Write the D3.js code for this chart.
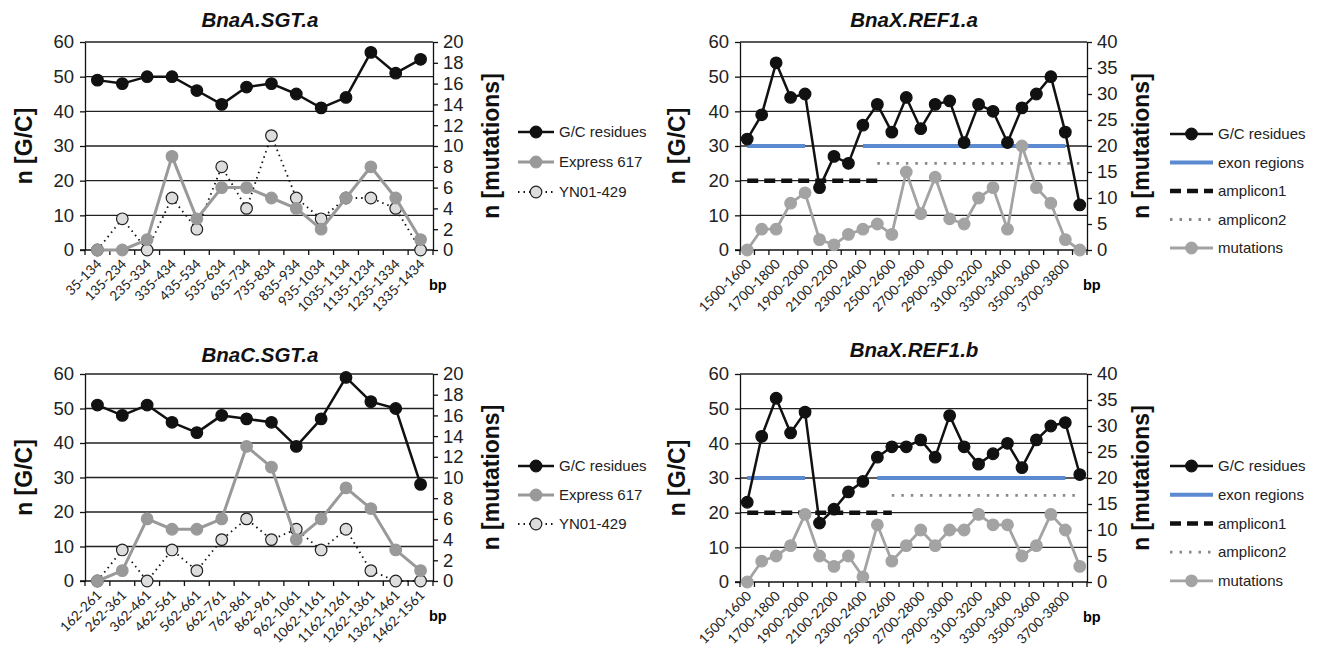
<!DOCTYPE html>
<html lang="en">
<head>
<meta charset="UTF-8">
<title>G/C residues and mutations</title>
<style>
  body { margin: 0; background: #fff; }
  svg { font-family: "Liberation Sans", Arial, sans-serif; }
  .grid line { stroke: #222; stroke-width: 1.3px; }
  .axis path, .axis line { stroke: #111; stroke-width: 1.3px; fill: none; }
  .axis text { font-size: 18.5px; fill: #222; }
  .xlab { font-family: Lato, "Open Sans", sans-serif; font-size: 13.5px; fill: #222; }
  .title { font-size: 20.5px; font-weight: bold; font-style: italic; fill: #111; }
  .ytitle { font-size: 23px; font-weight: bold; fill: #111; }
  .leg { font-size: 15px; fill: #222; }
</style>
</head>
<body>
<script src="https://cdnjs.cloudflare.com/ajax/libs/d3/7.8.5/d3.min.js"></script>
<script>
// ---- data ----
var catsA = ["35-134","135-234","235-334","335-434","435-534","535-634","635-734",
             "735-834","835-934","935-1034","1035-1134","1135-1234","1235-1334","1335-1434"];
var gcA = [49,48,50,50,46,42,47,48,45,41,44,57,51,55];
var express617A = [0,0,1,9,3,6,6,5,4,2,5,8,5,1];
var yn01A = [0,3,0,5,2,8,4,11,5,3,5,5,4,0];

var catsC = ["162-261","262-361","362-461","462-561","562-661","662-761","762-861",
             "862-961","962-1061","1062-1161","1162-1261","1262-1361","1362-1461","1462-1561"];
var gcC = [51,48,51,46,43,48,47,46,39,47,59,52,50,28];
var express617C = [0,1,6,5,5,6,13,11,4,6,9,7,3,1];
var yn01C = [0,3,0,3,1,4,6,4,5,3,5,1,0,0];

var catsREF = ["1500-1600","1600-1700","1700-1800","1800-1900","1900-2000","2000-2100",
               "2100-2200","2200-2300","2300-2400","2400-2500","2500-2600","2600-2700",
               "2700-2800","2800-2900","2900-3000","3000-3100","3100-3200","3200-3300",
               "3300-3400","3400-3500","3500-3600","3600-3700","3700-3800","3800-3900"];
var gcREFa = [32,39,54,44,45,18,27,25,36,42,34,44,35,42,43,31,42,40,31,41,45,50,34,13];
var mutREFa = [0,4,4,9,11,2,1,3,4,5,3,15,7,14,6,5,10,12,4,20,12,9,2,0];
var gcREFb = [23,42,53,43,49,17,21,26,29,36,39,39,41,36,48,39,34,37,40,33,41,45,46,31];
var mutREFb = [0,4,5,7,13,5,3,5,1,11,4,7,10,7,10,10,13,11,11,5,7,13,10,3];

// region markers: [from, to, level on G/C axis]
var exonREFa = [["1500-1600","1900-2000",30],["2300-2400","3700-3800",30]];
var amp1REFa = [["1500-1600","2400-2500",20]];
var amp2REFa = [["2400-2500","3800-3900",25]];
var exonREFb = [["1500-1600","1900-2000",30],["2400-2500","3700-3800",30]];
var amp1REFb = [["1500-1600","2500-2600",20]];
var amp2REFb = [["2500-2600","3800-3900",25]];

var W = 1318, H = 653;
var svg = d3.select("body").append("svg").attr("width", W).attr("height", H);

var styles = {
  gc:   {stroke: "#111", width: 2.5, dash: null, fill: "#111", mstroke: "#111", r: 5.8},
  expr: {stroke: "#999", width: 3, dash: null, fill: "#999", mstroke: "#999", r: 5.8},
  yn:   {stroke: "#111", width: 1.8, dash: "1.5,4", fill: "#ddd", mstroke: "#222", r: 5.8},
  mut:  {stroke: "#a3a3a3", width: 2.8, dash: null, fill: "#a3a3a3", mstroke: "#a3a3a3", r: 5.8},
  exon: {stroke: "#5b8ad0", width: 4, dash: null},
  amp1: {stroke: "#111", width: 4.5, dash: "11,6"},
  amp2: {stroke: "#888", width: 2.8, dash: "2.5,7"}
};

function drawPanel(p) {
  var g = svg.append("g");
  var x = d3.scaleBand().domain(p.cats).range([p.x0, p.x1]).padding(0);
  var cx = function(c) { return x(c) + x.bandwidth() / 2; };
  var yL = d3.scaleLinear().domain([0, 60]).range([p.y1, p.y0]);
  var yR = d3.scaleLinear().domain([0, p.rmax]).range([p.y1, p.y0]);

  // grid
  g.append("g").attr("class", "grid").selectAll("line")
    .data(d3.range(10, 61, 10)).join("line")
    .attr("x1", p.x0).attr("x2", p.x1)
    .attr("y1", function(d) { return yL(d); }).attr("y2", function(d) { return yL(d); });

  // axes
  g.append("g").attr("class", "axis").attr("transform", "translate(" + p.x0 + ",0)")
    .call(d3.axisLeft(yL).tickValues(d3.range(0, 61, 10)).tickSize(5).tickPadding(6).tickSizeOuter(0));
  g.append("g").attr("class", "axis").attr("transform", "translate(" + p.x1 + ",0)")
    .call(d3.axisRight(yR).tickValues(d3.range(0, p.rmax + 1, p.rstep)).tickSize(5).tickPadding(5).tickSizeOuter(0));

  // x axis with ticks on category boundaries
  var xa = g.append("g").attr("class", "axis");
  xa.append("line").attr("x1", p.x0 - 5).attr("x2", p.x1).attr("y1", p.y1).attr("y2", p.y1);
  xa.selectAll(".xt").data(p.cats.concat([null])).join("line").attr("class", "xt")
    .attr("x1", function(d, i) { return i < p.cats.length ? x(d) : p.x1; })
    .attr("x2", function(d, i) { return i < p.cats.length ? x(d) : p.x1; })
    .attr("y1", p.y1).attr("y2", p.y1 + 5);
  g.selectAll(".xlab").data(p.cats.filter(function(d, i) { return i % p.labelEvery === 0; }))
    .join("text").attr("class", "xlab")
    .attr("text-anchor", "end")
    .attr("transform", function(d) { return "translate(" + (cx(d) + 5) + "," + (p.y1 + 15) + ") rotate(-45)"; })
    .text(function(d) { return d; });
  g.append("text").attr("x", p.x1 - 4).attr("y", p.y1 + 40)
    .style("font-size", "14.5px").style("font-weight", "bold").text("bp");

  // region lines
  (p.regions || []).forEach(function(r) {
    var st = styles[r.style];
    g.selectAll(null).data(r.data).join("line")
      .attr("x1", function(d) { return cx(d[0]); }).attr("x2", function(d) { return cx(d[1]); })
      .attr("y1", function(d) { return yL(d[2]); }).attr("y2", function(d) { return yL(d[2]); })
      .attr("stroke", st.stroke).attr("stroke-width", st.width)
      .attr("stroke-dasharray", st.dash);
  });

  // series
  p.series.forEach(function(s) {
    var st = styles[s.style];
    var y = s.axis === "left" ? yL : yR;
    var line = d3.line().x(function(d, i) { return cx(p.cats[i]); }).y(function(d) { return y(d); });
    g.append("path").datum(s.values).attr("d", line)
      .attr("fill", "none").attr("stroke", st.stroke).attr("stroke-width", st.width)
      .attr("stroke-dasharray", st.dash).attr("stroke-linejoin", "round");
    g.selectAll(null).data(s.values).join("circle")
      .attr("cx", function(d, i) { return cx(p.cats[i]); }).attr("cy", function(d) { return y(d); })
      .attr("r", st.r).attr("fill", st.fill).attr("stroke", st.mstroke).attr("stroke-width", 1.2);
  });

  // titles
  g.append("text").attr("class", "title").attr("x", p.tx).attr("y", p.ty)
    .attr("text-anchor", "middle").text(p.title);
  g.append("text").attr("class", "ytitle").attr("text-anchor", "middle")
    .attr("transform", "translate(" + p.lx + "," + (p.y0 + p.y1) / 2 + ") rotate(-90)")
    .attr("dy", "0.35em").text("n [G/C]");
  g.append("text").attr("class", "ytitle").attr("text-anchor", "middle")
    .attr("transform", "translate(" + p.rx + "," + (p.y0 + p.y1) / 2 + ") rotate(-90)")
    .attr("dy", "0.35em").text("n [mutations]");

  // legend
  var lg = g.append("g");
  p.legend.forEach(function(l, i) {
    var st = styles[l.style];
    var yy = p.ly + i * p.lgap;
    lg.append("line").attr("x1", p.lgx).attr("x2", p.lgx + p.lgw).attr("y1", yy).attr("y2", yy)
      .attr("stroke", st.stroke).attr("stroke-width", st.width).attr("stroke-dasharray", st.dash);
    if (st.r) {
      lg.append("circle").attr("cx", p.lgx + p.lgw / 2).attr("cy", yy).attr("r", st.r)
        .attr("fill", st.fill).attr("stroke", st.mstroke).attr("stroke-width", 1.2);
    }
    lg.append("text").attr("class", "leg").attr("x", p.lgx + p.lgw + 5).attr("y", yy)
      .attr("dy", "0.35em").text(l.name);
  });
}

drawPanel({
  title: "BnaA.SGT.a", cats: catsA, x0: 85, x1: 433, y0: 42, y1: 250, rmax: 20, rstep: 2,
  labelEvery: 1, tx: 260, ty: 27, lx: 24, rx: 491,
  series: [
    {values: gcA, style: "gc", axis: "left"},
    {values: yn01A, style: "yn", axis: "right"},
    {values: express617A, style: "expr", axis: "right"}
  ],
  legend: [{name: "G/C residues", style: "gc"}, {name: "Express 617", style: "expr"}, {name: "YN01-429", style: "yn"}],
  lgx: 518, lgw: 36, ly: 132, lgap: 30
});

drawPanel({
  title: "BnaC.SGT.a", cats: catsC, x0: 85, x1: 433, y0: 374, y1: 581, rmax: 20, rstep: 2,
  labelEvery: 1, tx: 260, ty: 362, lx: 24, rx: 491,
  series: [
    {values: gcC, style: "gc", axis: "left"},
    {values: yn01C, style: "yn", axis: "right"},
    {values: express617C, style: "expr", axis: "right"}
  ],
  legend: [{name: "G/C residues", style: "gc"}, {name: "Express 617", style: "expr"}, {name: "YN01-429", style: "yn"}],
  lgx: 518, lgw: 36, ly: 466, lgap: 29
});

drawPanel({
  title: "BnaX.REF1.a", cats: catsREF, x0: 740, x1: 1087, y0: 42, y1: 250, rmax: 40, rstep: 5,
  labelEvery: 2, tx: 914, ty: 27, lx: 677, rx: 1141,
  regions: [
    {data: exonREFa, style: "exon"}, {data: amp2REFa, style: "amp2"}, {data: amp1REFa, style: "amp1"}
  ],
  series: [
    {values: mutREFa, style: "mut", axis: "right"},
    {values: gcREFa, style: "gc", axis: "left"}
  ],
  legend: [{name: "G/C residues", style: "gc"}, {name: "exon regions", style: "exon"},
           {name: "amplicon1", style: "amp1"}, {name: "amplicon2", style: "amp2"}, {name: "mutations", style: "mut"}],
  lgx: 1170, lgw: 43, ly: 134, lgap: 28.5
});

drawPanel({
  title: "BnaX.REF1.b", cats: catsREF, x0: 740, x1: 1087, y0: 374, y1: 582, rmax: 40, rstep: 5,
  labelEvery: 2, tx: 914, ty: 357, lx: 677, rx: 1141,
  regions: [
    {data: exonREFb, style: "exon"}, {data: amp2REFb, style: "amp2"}, {data: amp1REFb, style: "amp1"}
  ],
  series: [
    {values: mutREFb, style: "mut", axis: "right"},
    {values: gcREFb, style: "gc", axis: "left"}
  ],
  legend: [{name: "G/C residues", style: "gc"}, {name: "exon regions", style: "exon"},
           {name: "amplicon1", style: "amp1"}, {name: "amplicon2", style: "amp2"}, {name: "mutations", style: "mut"}],
  lgx: 1170, lgw: 43, ly: 466, lgap: 28.7
});
</script>
</body>
</html>
